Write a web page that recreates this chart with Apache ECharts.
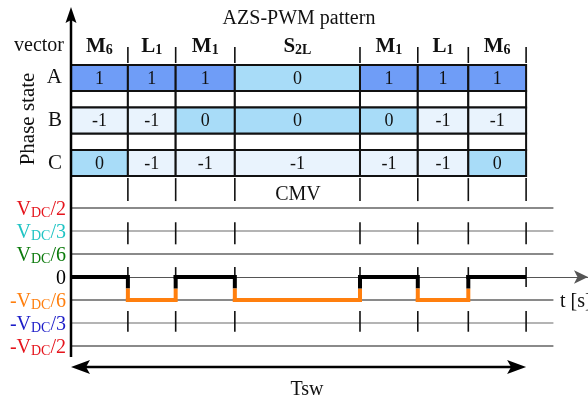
<!DOCTYPE html>
<html>
<head>
<meta charset="utf-8">
<script src="https://cdn.jsdelivr.net/npm/echarts@6/dist/echarts.min.js"></script>
<style>
  html, body { margin: 0; padding: 0; background: #fff; }
  #c { width: 588px; height: 403px; }
</style>
</head>
<body>
<div id="c"></div>
<script>
// Switching sequence over one period, time given as fractions of Tsw
const vectors = ['M6', 'L1', 'M1', 'S2L', 'M1', 'L1', 'M6'];
const edges = [0, 0.125, 0.23, 0.36, 0.635, 0.762, 0.873, 1.0];
const phases = ['A', 'B', 'C'];
const phaseA = [1, 1, 1, 0, 1, 1, 1];
const phaseB = [-1, -1, 0, 0, 0, -1, -1];
const phaseC = [0, -1, -1, -1, -1, -1, 0];
// Common-mode voltage of each vector, in units of VDC/6
const cmv = [0, -1, 0, -1, 0, -1, 0];
const levelValues = [3, 2, 1, 0, -1, -2, -3];
const levelLabels = ['VDC/2', 'VDC/3', 'VDC/6', '0', '-VDC/6', '-VDC/3', '-VDC/2'];

const SERIF = "'Liberation Serif', 'DejaVu Serif', serif";
const levelColors = ['#e5141c', '#20c4c4', '#0b7a0b', '#000000', '#ff7f0e', '#1c1cc8', '#e5141c'];
const stateFill = { '1': '#6f9df7', '0': '#a8dcf8', '-1': '#e9f3fd' };
const X_MAX = 1.136;      // x range shown, beyond one period to make room for the time arrow
const ROW_H = 0.61;       // height of a phase row relative to the row pitch
const LINE_END = 1.06;    // where the level grid lines stop

const chart = echarts.init(document.getElementById('c'));

// table cells: [start, end, phase index, state]
const cells = [];
[phaseA, phaseB, phaseC].forEach((row, r) => {
  row.forEach((v, c) => cells.push([edges[c], edges[c + 1], r, v]));
});

// CMV segments: [start, end, level, previous level]
const segments = cmv.map((v, i) => [edges[i], edges[i + 1], v, i > 0 ? cmv[i - 1] : v]);
const waveColor = v => (v > -0.5 ? '#000000' : '#ff7f0e');

// rich text for the level labels
const rich = {};
levelColors.forEach((col, i) => {
  rich['m' + i] = { fontFamily: SERIF, fontSize: 20, color: col, lineHeight: 24, verticalAlign: 'bottom' };
  rich['s' + i] = { fontFamily: SERIF, fontSize: 14, color: col, lineHeight: 18, verticalAlign: 'bottom' };
});
function levelLabel(value) {
  const i = levelValues.indexOf(value);
  if (i < 0) return '';
  const t = levelLabels[i];
  const k = t.indexOf('DC');
  if (k < 0) return '{m' + i + '|' + t + '}';
  return '{m' + i + '|' + t.slice(0, k) + '}{s' + i + '|DC}{m' + i + '|' + t.slice(k + 2) + '}';
}

function subLabel(name) {
  // M6 -> M with subscript 6, S2L -> S with subscript 2L
  return '{h|' + name[0] + '}{hs|' + name.slice(1) + '}';
}

const option = {
  animation: false,
  backgroundColor: '#fff',
  grid: [
    { left: 71, right: 0, top: 65, height: 111 },
    { left: 71, right: 0, top: 208, height: 138 }
  ],
  xAxis: [
    { gridIndex: 0, type: 'value', min: 0, max: X_MAX, show: false },
    {
      gridIndex: 1, type: 'value', min: 0, max: X_MAX,
      axisLine: { show: true, onZero: true, symbol: ['none', 'arrow'], symbolSize: [10, 14],
        lineStyle: { color: '#555', width: 1.2 } },
      axisTick: { show: false }, axisLabel: { show: false }, splitLine: { show: false }
    }
  ],
  yAxis: [
    { gridIndex: 0, type: 'value', min: 0, max: 2 + ROW_H, inverse: true, show: false },
    {
      gridIndex: 1, type: 'value', min: -3, max: 3, interval: 1,
      axisLine: { show: false }, axisTick: { show: false }, splitLine: { show: false },
      axisLabel: { margin: 5, formatter: levelLabel, rich: rich }
    }
  ],
  series: [
    // phase state table
    {
      type: 'custom', xAxisIndex: 0, yAxisIndex: 0, data: cells, clip: false, z: 3,
      renderItem(params, api) {
        const x0 = api.value(0), x1 = api.value(1), r = api.value(2), v = api.value(3);
        const p0 = api.coord([x0, r]);
        const p1 = api.coord([x1, r + ROW_H]);
        const children = [];
        if (r < phases.length - 1) {
          const g = api.coord([x1, r + 1]);
          children.push({ type: 'rect', shape: { x: p0[0], y: p1[1], width: p1[0] - p0[0], height: g[1] - p1[1] },
            style: { fill: '#fff', stroke: '#111', lineWidth: 2 } });
        }
        children.push({ type: 'rect', shape: { x: p0[0], y: p0[1], width: p1[0] - p0[0], height: p1[1] - p0[1] },
          style: { fill: stateFill[String(v)], stroke: '#111', lineWidth: 2 } });
        children.push({ type: 'text', style: { text: String(v), x: (p0[0] + p1[0]) / 2, y: (p0[1] + p1[1]) / 2 + 1,
          align: 'center', verticalAlign: 'middle', fontFamily: SERIF, fontSize: 18, fill: '#111' } });
        return { type: 'group', children };
      }
    },
    // vector names and boundary ticks above the table
    {
      type: 'custom', xAxisIndex: 0, yAxisIndex: 0, clip: false, z: 3,
      data: vectors.map((n, i) => [edges[i], edges[i + 1], i]),
      renderItem(params, api) {
        const i = api.value(2);
        const p0 = api.coord([api.value(0), 0]);
        const p1 = api.coord([api.value(1), 0]);
        return { type: 'group', children: [
          { type: 'line', shape: { x1: p1[0], y1: p1[1] - 18, x2: p1[0], y2: p1[1] - 2 },
            style: { stroke: '#111', lineWidth: 1.6 } },
          { type: 'text', style: { text: subLabel(vectors[i]), x: (p0[0] + p1[0]) / 2, y: p0[1] - 8,
            align: 'center', verticalAlign: 'bottom',
            rich: {
              h: { fontFamily: SERIF, fontWeight: 'bold', fontSize: 21, lineHeight: 24, verticalAlign: 'bottom', fill: '#111' },
              hs: { fontFamily: SERIF, fontWeight: 'bold', fontSize: 14, lineHeight: 18, verticalAlign: 'bottom', fill: '#111' }
            } } }
        ] };
      }
    },
    // phase names
    {
      type: 'custom', xAxisIndex: 0, yAxisIndex: 0, clip: false, z: 3,
      data: phases.map((p, r) => [0, r]),
      renderItem(params, api) {
        const p = api.coord([0, api.value(1) + ROW_H / 2]);
        return { type: 'text', style: { text: phases[params.dataIndex], x: p[0] - 9, y: p[1],
          align: 'right', verticalAlign: 'middle', fontFamily: SERIF, fontSize: 21, fill: '#111' } };
      }
    },
    // CMV level lines
    {
      type: 'custom', xAxisIndex: 1, yAxisIndex: 1, clip: false, z: 1,
      data: levelValues.filter(v => v !== 0).map(v => [0, v]),
      renderItem(params, api) {
        const v = api.value(1);
        const a = api.coord([0, v]), b = api.coord([LINE_END, v]);
        return { type: 'line', shape: { x1: a[0], y1: a[1], x2: b[0], y2: b[1] },
          style: { stroke: Math.abs(v) === 2 ? '#b4b4b4' : '#8a8a8a', lineWidth: 2 } };
      }
    },
    // vector boundary ticks across the CMV panel
    {
      type: 'custom', xAxisIndex: 1, yAxisIndex: 1, clip: false, z: 4,
      data: edges.slice(1).map(x => [x]),
      renderItem(params, api) {
        const x = api.value(0);
        const bands = [[4.3, 3.3], [2.38, 1.42], [0.43, -0.43], [-1.48, -2.38]];
        return { type: 'group', children: bands.map(b => {
          const a = api.coord([x, b[0]]), c = api.coord([x, b[1]]);
          return { type: 'line', shape: { x1: a[0], y1: a[1], x2: c[0], y2: c[1] },
            style: { stroke: '#111', lineWidth: 1.6 } };
        }) };
      }
    },
    // CMV waveform: each level drawn in its own colour, transitions split half way
    {
      type: 'custom', xAxisIndex: 1, yAxisIndex: 1, clip: false, z: 5,
      data: segments,
      renderItem(params, api) {
        const x0 = api.value(0), x1 = api.value(1), v = api.value(2), pv = api.value(3);
        const W = 4, h = W / 2;
        const a = api.coord([x0, v]), b = api.coord([x1, v]);
        const children = [
          { type: 'line', shape: { x1: a[0] - (pv !== v ? h : 0), y1: a[1], x2: b[0], y2: b[1] },
            style: { stroke: waveColor(v), lineWidth: W } }
        ];
        if (pv !== v) {
          const p = api.coord([x0, pv]), m = api.coord([x0, (v + pv) / 2]);
          const dir = Math.sign(a[1] - p[1]);
          children.push({ type: 'line', shape: { x1: p[0], y1: p[1] - dir * h, x2: m[0], y2: m[1] },
            style: { stroke: waveColor(pv), lineWidth: W } });
          children.push({ type: 'line', shape: { x1: m[0], y1: m[1], x2: a[0], y2: a[1] + dir * h },
            style: { stroke: waveColor(v), lineWidth: W } });
        }
        return { type: 'group', children };
      }
    },
    // Tsw double arrow
    {
      type: 'custom', xAxisIndex: 1, yAxisIndex: 1, clip: false, z: 3,
      data: [[edges[0], edges[edges.length - 1]]],
      renderItem(params, api) {
        const a = api.coord([api.value(0), -3.91]), b = api.coord([api.value(1), -3.91]);
        const L = 19, H = 7, N = 4;
        return { type: 'group', children: [
          { type: 'line', shape: { x1: a[0] + 10, y1: a[1], x2: b[0] - 10, y2: b[1] }, style: { stroke: '#000', lineWidth: 2.5 } },
          { type: 'polygon', shape: { points: [[a[0], a[1]], [a[0] + L, a[1] - H], [a[0] + L - N, a[1]], [a[0] + L, a[1] + H]] },
            style: { fill: '#000' } },
          { type: 'polygon', shape: { points: [[b[0], b[1]], [b[0] - L, b[1] - H], [b[0] - L + N, b[1]], [b[0] - L, b[1] + H]] },
            style: { fill: '#000' } }
        ] };
      }
    }
  ],
  graphic: [
    { type: 'line', shape: { x1: 71, y1: 18, x2: 71, y2: 357 }, style: { stroke: '#000', lineWidth: 2.5 }, z: 10 },
    { type: 'polygon', shape: { points: [[71, 7], [65.5, 23], [71, 20], [76.5, 23]] }, style: { fill: '#000' }, z: 10 },
    { type: 'text', x: 299, y: 19, style: { text: 'AZS-PWM pattern', align: 'center', verticalAlign: 'middle',
      fontFamily: SERIF, fontSize: 20, fill: '#111' } },
    { type: 'text', x: 64, y: 46, style: { text: 'vector', align: 'right', verticalAlign: 'middle',
      fontFamily: SERIF, fontSize: 20, fill: '#111' } },
    { type: 'text', x: 28, y: 119, rotation: Math.PI / 2, style: { text: 'Phase state', align: 'center', verticalAlign: 'middle',
      fontFamily: SERIF, fontSize: 21, fill: '#111' } },
    { type: 'text', x: 298, y: 195, style: { text: 'CMV', align: 'center', verticalAlign: 'middle',
      fontFamily: SERIF, fontSize: 20, fill: '#111' } },
    { type: 'text', x: 560, y: 302, style: { text: 't [s]', align: 'left', verticalAlign: 'middle',
      fontFamily: SERIF, fontSize: 20, fill: '#111' } },
    { type: 'text', x: 307, y: 390, style: { text: 'Tsw', align: 'center', verticalAlign: 'middle',
      fontFamily: SERIF, fontSize: 20, fill: '#111' } }
  ]
};

chart.setOption(option);
</script>
</body>
</html>
